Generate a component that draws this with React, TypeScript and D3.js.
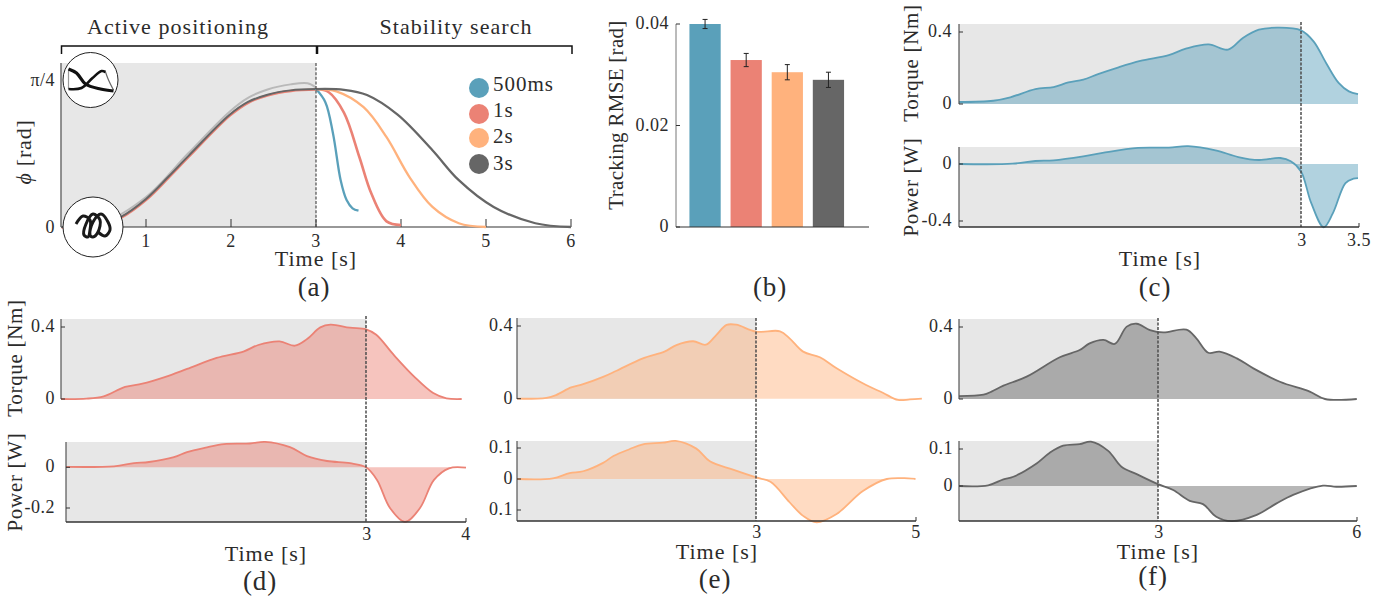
import React from "react";
import * as d3 from "d3";

type P = [number, number];
const BLUE = "#5AA0BA", RED = "#EB8275", ORANGE = "#FFB27D", DARK = "#666666";
const SERIF = "'Liberation Serif', serif";
const INK = "#2b2b2b";

// panel (a): joint angle phi [rad]
const riseCommon: P[] = [[0,0],[0.25,0.003],[0.5,0.02],[0.7,0.053],[1,0.15],[1.26,0.267],[1.5,0.38],[1.98,0.598],[2.2,0.668],[2.43,0.707],[2.7,0.73],[3,0.737]];
const riseReference: P[] = [[0,0],[0.5,0.025],[1,0.16],[1.5,0.395],[1.98,0.615],[2.2,0.69],[2.43,0.735],[2.7,0.762],[2.9,0.768],[3,0.745]];
const fall500ms: P[] = [[3,0.737],[3.11,0.667],[3.2,0.5],[3.29,0.25],[3.36,0.144],[3.43,0.1],[3.5,0.087]];
const fall1s: P[] = [[3,0.737],[3.15,0.72],[3.33,0.61],[3.51,0.374],[3.65,0.18],[3.83,0.03],[4,0.01]];
const fall2s: P[] = [[3,0.737],[3.24,0.725],[3.56,0.64],[3.83,0.48],[4.1,0.267],[4.37,0.107],[4.68,0.02],[5,0]];
const fall3s: P[] = [[3,0.737],[3.33,0.733],[3.6,0.705],[3.96,0.6],[4.37,0.41],[4.68,0.25],[5.09,0.107],[5.58,0.02],[6,0]];
const legendLabels = ["500ms", "1s", "2s", "3s"];

// panel (b): tracking RMSE
const rmseValues = [0.04, 0.0329, 0.0305, 0.029];
const rmseErrors = [0.0009, 0.0013, 0.0015, 0.0015];

// panel (c)
const torqueC: P[] = [[0,0.011],[0.3,0.018],[0.45,0.037],[0.67,0.083],[0.83,0.094],[0.96,0.12],[1.09,0.135],[1.22,0.166],[1.4,0.204],[1.59,0.239],[1.84,0.272],[1.99,0.307],[2.19,0.331],[2.36,0.302],[2.49,0.367],[2.63,0.413],[2.8,0.424],[3,0.409],[3.11,0.348],[3.22,0.228],[3.33,0.117],[3.42,0.07],[3.5,0.055]];
const powerC: P[] = [[0,0],[0.47,0.002],[0.67,0.021],[0.83,0.026],[1.09,0.054],[1.26,0.078],[1.57,0.113],[1.84,0.115],[2.01,0.125],[2.25,0.096],[2.45,0.049],[2.63,0.028],[2.82,0.042],[2.91,0.019],[3,-0.052],[3.09,-0.275],[3.2,-0.444],[3.28,-0.345],[3.39,-0.134],[3.46,-0.103],[3.5,-0.099]];
// panel (d)
const torqueD: P[] = [[0,0],[0.25,0.002],[0.42,0.015],[0.63,0.067],[0.8,0.085],[1.02,0.122],[1.24,0.167],[1.53,0.228],[1.8,0.265],[1.94,0.3],[2.15,0.32],[2.3,0.296],[2.42,0.333],[2.55,0.398],[2.65,0.413],[2.84,0.396],[3,0.387],[3.1,0.357],[3.27,0.246],[3.47,0.126],[3.66,0.033],[3.79,0.004],[3.94,0]];
const powerD: P[] = [[0,0.002],[0.48,0.005],[0.68,0.02],[0.83,0.026],[1.08,0.05],[1.21,0.075],[1.41,0.098],[1.58,0.114],[1.84,0.117],[1.99,0.125],[2.24,0.099],[2.41,0.055],[2.61,0.031],[2.84,0.02],[3,0],[3.11,-0.062],[3.24,-0.2],[3.39,-0.268],[3.54,-0.2],[3.68,-0.062],[3.83,-0.005],[4,-0.002]];
// panel (e)
const torqueE: P[] = [[0,0],[0.37,0.005],[0.49,0.02],[0.68,0.062],[0.83,0.08],[1.08,0.12],[1.25,0.154],[1.58,0.222],[1.85,0.259],[2,0.295],[2.21,0.316],[2.37,0.297],[2.5,0.35],[2.63,0.406],[2.75,0.407],[3,0.369],[3.3,0.371],[3.42,0.332],[3.59,0.259],[3.8,0.228],[4.01,0.167],[4.38,0.075],[4.59,0.033],[4.78,-0.007],[4.93,-0.004],[5.08,0]];
const powerE: P[] = [[0,0],[0.45,0.002],[0.66,0.019],[0.83,0.025],[1.08,0.052],[1.21,0.074],[1.41,0.096],[1.58,0.112],[1.83,0.117],[1.99,0.123],[2.25,0.098],[2.42,0.057],[2.71,0.03],[3,0.005],[3.18,-0.009],[3.42,-0.075],[3.59,-0.119],[3.76,-0.14],[4.01,-0.113],[4.34,-0.039],[4.64,0],[5,0]];
// panel (f)
const torqueF: P[] = [[0,0.016],[0.37,0.024],[0.49,0.041],[0.67,0.074],[1.02,0.124],[1.52,0.232],[1.82,0.272],[1.97,0.309],[2.18,0.328],[2.35,0.306],[2.53,0.402],[2.68,0.418],[2.88,0.383],[3.08,0.37],[3.43,0.385],[3.58,0.337],[3.76,0.257],[3.93,0.263],[4.19,0.226],[4.44,0.17],[4.84,0.096],[5.29,0.041],[5.52,0],[6,0]];
const powerF: P[] = [[0,0],[0.44,0.002],[0.67,0.018],[0.82,0.025],[1.17,0.061],[1.37,0.09],[1.57,0.109],[1.82,0.113],[1.99,0.12],[2.25,0.095],[2.45,0.052],[2.68,0.032],[3,0.005],[3.23,-0.011],[3.48,-0.04],[3.68,-0.049],[3.88,-0.083],[4.11,-0.095],[4.49,-0.078],[4.79,-0.047],[5.04,-0.024],[5.49,0.001],[5.69,-0.002],[6,0]];

// pictograms inside the two circles of panel (a)
const iconTopA: P[] = [[-22,-11],[-14,-7],[-5,4],[10,9],[23,11]];
const iconTopB: P[] = [[-22,9],[-9,8],[2,-2],[11,-9],[15,-8]];
const iconTopC: P[] = [[15,-8],[18,0],[23,10]];
const iconTopD: P[] = [[-22,-11],[-22,9]];
const iconCoil: P[] = [[-17,-3],[-10,-11],[-3,-7],[-3,3],[-5,10],[-9,8],[-7,-3],[0,-13],[7,-7],[5,5],[0,10],[-3,8],[0,-5],[8,-13],[15,-5],[17,3],[12,9],[5,5]];

const CURVE = d3.curveCatmullRom.alpha(0.5);
const line = (xs: any, ys: any) => d3.line<P>().x(d => xs(d[0])).y(d => ys(d[1])).curve(CURVE);

function T({ x, y, s = 18, a = "middle", rot, children, ls = 0.5 }: any) {
  return (
    <text x={x} y={y} fontSize={s} textAnchor={a} fill={INK} fontFamily={SERIF} letterSpacing={ls}
      transform={rot ? `rotate(${rot} ${x} ${y})` : undefined}>{children}</text>
  );
}

interface Sub {
  data: P[]; top: number; bottom: number; zeroY: number; refY: number; refV: number;
  left: number; unit: number; ticks: [number, string][]; label?: string; labelY?: number;
}

function Area({ sub, color, threeX, labelX, tickRight }: { sub: Sub; color: string; threeX: number; labelX?: number; tickRight: number }) {
  const x = d3.scaleLinear().domain([0, 1]).range([sub.left, sub.left + sub.unit]);
  const y = d3.scaleLinear().domain([0, sub.refV]).range([sub.zeroY, sub.refY]);
  const area = d3.area<P>().x(d => x(d[0])).y0(y(0)).y1(d => y(d[1])).curve(CURVE);
  return (
    <g>
      <rect x={sub.left} y={sub.top} width={threeX - sub.left} height={sub.bottom - sub.top} fill="#E7E7E7" />
      <path d={area(sub.data)!} fill={color} opacity={0.47} />
      <path d={line(x, y)(sub.data)!} fill="none" stroke={color} strokeWidth={1.8} />
      <line x1={sub.left} x2={sub.left} y1={sub.top} y2={sub.bottom} stroke="#555" strokeWidth={1.2} />
      {sub.ticks.map(([v, s]) => (
        <g key={s + v}>
          <line x1={sub.left} x2={sub.left + 4} y1={y(v)} y2={y(v)} stroke="#333" strokeWidth={1} />
          <T x={tickRight} y={y(v) + 5} a="end">{s}</T>
        </g>
      ))}
      {sub.label && <T x={labelX} y={sub.labelY} s={21} ls={0.7} rot={-90}>{sub.label}</T>}
    </g>
  );
}

function TimePanel({ torque, power, color, threeX, endX, endLabel, bottom, tickY, tickRight, labelX, timeX, timeY, capX, capY, cap, dashTop }: any) {
  return (
    <g>
      <Area sub={torque} color={color} threeX={threeX} labelX={labelX} tickRight={tickRight} />
      <Area sub={power} color={color} threeX={threeX} labelX={labelX} tickRight={tickRight} />
      <line x1={threeX} x2={threeX} y1={dashTop} y2={bottom} stroke="#4d4d4d" strokeWidth={1.5} strokeDasharray="3 1.5" />
      <line x1={power.left} x2={endX} y1={bottom} y2={bottom} stroke="#333" strokeWidth={1.3} />
      <line x1={endX} x2={endX} y1={bottom} y2={bottom - 4} stroke="#333" strokeWidth={1} />
      <T x={threeX + 1} y={tickY}>3</T>
      <T x={endX} y={tickY}>{endLabel}</T>
      <T x={timeX} y={timeY} s={22} ls={1}>Time [s]</T>
      <T x={capX} y={capY} s={27} ls={0.8}>{cap}</T>
    </g>
  );
}

function PanelA() {
  const x = d3.scaleLinear().domain([0, 6]).range([61, 571]);
  const y = d3.scaleLinear().domain([0, Math.PI / 4]).range([227, 80]);
  const l = line(x, y);
  const icon = d3.line<P>().curve(d3.curveCatmullRom);
  const series: [P[], string, number][] = [[fall500ms, BLUE, 2.3], [fall1s, RED, 2.6], [fall2s, ORANGE, 2.3], [fall3s, DARK, 2.3]];
  const legendColors = [BLUE, RED, ORANGE, DARK];
  return (
    <g>
      <T x={178} y={34} s={22} ls={1.05}>Active positioning</T>
      <T x={456} y={34} s={22} ls={1.05}>Stability search</T>
      <path d="M61.5 54V46H316.5V54M317.5 54V46H572V54" fill="none" stroke="#111" strokeWidth={1.5} />
      <rect x={61} y={63} width={255} height={164} fill="#E7E7E7" />
      <line x1={61} x2={61} y1={63} y2={227} stroke="#777" strokeWidth={1.6} />
      <line x1={61} x2={571} y1={227} y2={227} stroke="#333" strokeWidth={1.2} />
      {[1, 2, 3, 4, 5, 6].map(t => (
        <g key={t}>
          <line x1={x(t)} x2={x(t)} y1={227} y2={219} stroke="#333" strokeWidth={1} />
          <T x={x(t)} y={247}>{t}</T>
        </g>
      ))}
      <T x={55} y={86} a="end">π/4</T>
      <T x={55} y={233} a="end">0</T>
      <path d={l(riseReference)!} fill="none" stroke="#b9b9b9" strokeWidth={2} />
      <path d={l(riseCommon)!} fill="none" stroke={RED} strokeWidth={2.4} transform="translate(0.6,0.6)" />
      <path d={l(riseCommon)!} fill="none" stroke={DARK} strokeWidth={2} />
      {series.map(([d, c, w]) => <path key={c} d={l(d)!} fill="none" stroke={c} strokeWidth={w} />)}
      <line x1={316} x2={316} y1={63} y2={227} stroke="#4d4d4d" strokeWidth={1.2} strokeDasharray="3 1.6" />
      <circle cx={90.5} cy={80} r={27.5} fill="white" stroke="#222" />
      <circle cx={93} cy={227} r={30} fill="white" stroke="#222" />
      <g transform="translate(90.5,80)">
        <path d={icon(iconTopD)!} fill="none" stroke="#999" strokeWidth={1.2} />
        <path d={icon(iconTopC)!} fill="none" stroke="#666" strokeWidth={1.2} />
        <path d={icon(iconTopA)!} fill="none" stroke="#111" strokeWidth={3.2} />
        <path d={icon(iconTopB)!} fill="none" stroke="#111" strokeWidth={2.6} />
      </g>
      <path transform="translate(93,227)" d={d3.line<P>().curve(d3.curveCatmullRom)(iconCoil)!} fill="none" stroke="#1a1a1a" strokeWidth={3} />
      {legendLabels.map((s, i) => (
        <g key={s}>
          <circle cx={479} cy={[88, 114, 138, 164][i]} r={10} fill={legendColors[i]} />
          <T x={493} y={[91, 117, 143, 170][i]} a="start" s={21} ls={1}>{s}</T>
        </g>
      ))}
      <T x={316} y={266} s={22} ls={1}>Time [s]</T>
      <T x={314} y={296} s={27} ls={0.8}>(a)</T>
      <T x={31} y={152} s={22} ls={0.8} rot={-90}><tspan fontStyle="italic">ϕ</tspan> [rad]</T>
    </g>
  );
}

function PanelB() {
  const y = d3.scaleLinear().domain([0, 0.04]).range([227, 24]);
  const x = d3.scaleBand<number>().domain(d3.range(rmseValues.length)).range([684.5, 849]).paddingInner(0.24).paddingOuter(0.12);
  const colors = [BLUE, RED, ORANGE, DARK];
  return (
    <g>
      {rmseValues.map((v, i) => {
        const cx = x(i)! + x.bandwidth() / 2;
        const e = rmseErrors[i];
        return (
          <g key={i}>
            <rect x={x(i)} y={y(v)} width={x.bandwidth()} height={227 - y(v)} fill={colors[i]} />
            <path d={`M${cx} ${y(v + e)}V${y(v - e)}M${cx - 2.5} ${y(v + e)}H${cx + 2.5}M${cx - 2.5} ${y(v - e)}H${cx + 2.5}`} stroke="#222" strokeWidth={1} fill="none" />
          </g>
        );
      })}
      <line x1={676} x2={676} y1={24} y2={227} stroke="#777" strokeWidth={1} />
      <line x1={676} x2={869} y1={227} y2={227} stroke="#333" strokeWidth={1.2} />
      {[[0.04, "0.04"], [0.02, "0.02"], [0, "0"]].map(([v, s]: any) => (
        <g key={s}>
          <line x1={676} x2={680} y1={y(v)} y2={y(v)} stroke="#333" />
          <T x={669} y={y(v) + 5} a="end">{s}</T>
        </g>
      ))}
      <T x={623} y={115} s={21} ls={0.3} rot={-90}>Tracking RMSE [rad]</T>
      <T x={770} y={296} s={27} ls={0.8}>(b)</T>
    </g>
  );
}

export default function App() {
  return (
    <svg width={1387} height={601} style={{ position: "absolute", left: 0, top: 0 }}>
      <rect width={1387} height={601} fill="white" />
      <PanelA />
      <PanelB />
      <TimePanel color={BLUE} threeX={1301} endX={1359} endLabel="3.5" bottom={227} dashTop={22} tickY={246} tickRight={952} labelX={918}
        timeX={1160} timeY={266} capX={1155} capY={296} cap="(c)"
        torque={{ data: torqueC, top: 24, bottom: 104, zeroY: 104, refY: 32, refV: 0.4, left: 959, unit: 114, ticks: [[0.4, "0.4"], [0, "0"]], label: "Torque [Nm]", labelY: 63 }}
        power={{ data: powerC, top: 147, bottom: 227, zeroY: 164, refY: 221, refV: -0.4, left: 959, unit: 114, ticks: [[0, "0"], [-0.4, "-0.4"]], label: "Power [W]", labelY: 187 }} />
      <TimePanel color={RED} threeX={366} endX={466} endLabel="4" bottom={522} dashTop={316} tickY={540} tickRight={55} labelX={22}
        timeX={266} timeY={561} capX={260} capY={590} cap="(d)"
        torque={{ data: torqueD, top: 319, bottom: 399, zeroY: 399, refY: 327, refV: 0.4, left: 61, unit: 101.7, ticks: [[0.4, "0.4"], [0, "0"]], label: "Torque [Nm]", labelY: 358 }}
        power={{ data: powerD, top: 442, bottom: 522, zeroY: 467.3, refY: 508, refV: -0.2, left: 66, unit: 100, ticks: [[0, "0"], [-0.2, "-0.2"]], label: "Power [W]", labelY: 482 }} />
      <TimePanel color={ORANGE} threeX={756} endX={916} endLabel="5" bottom={521} dashTop={318} tickY={538} tickRight={513} labelX={0}
        timeX={717} timeY={559} capX={715} capY={588} cap="(e)"
        torque={{ data: torqueE, top: 318, bottom: 399, zeroY: 398.7, refY: 326, refV: 0.4, left: 517, unit: 79.7, ticks: [[0.4, "0.4"], [0, "0"]] }}
        power={{ data: powerE, top: 441, bottom: 521, zeroY: 479, refY: 448, refV: 0.1, left: 517, unit: 79.7, ticks: [[0.1, "0.1"], [0, "0"], [-0.1, "0.1"]] }} />
      <TimePanel color={DARK} threeX={1158} endX={1357} endLabel="6" bottom={521} dashTop={318} tickY={538} tickRight={953} labelX={0}
        timeX={1158} timeY={559} capX={1153} capY={585} cap="(f)"
        torque={{ data: torqueF, top: 319, bottom: 399, zeroY: 399, refY: 327, refV: 0.4, left: 959, unit: 66.3, ticks: [[0.4, "0.4"], [0, "0"]] }}
        power={{ data: powerF, top: 441, bottom: 521, zeroY: 486, refY: 449, refV: 0.1, left: 959, unit: 66.3, ticks: [[0.1, "0.1"], [0, "0"]] }} />
    </svg>
  );
}
